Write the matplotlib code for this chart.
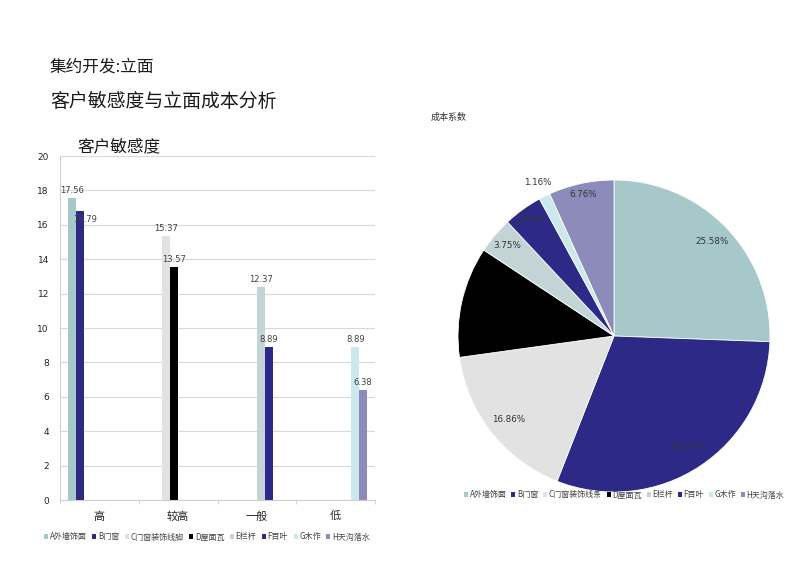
import matplotlib
matplotlib.use("Agg")
import matplotlib.pyplot as plt
import numpy as np
from matplotlib.patches import Patch

plt.rcParams['font.family'] = ['Noto Sans CJK SC', 'DejaVu Sans']

# ---- data ----
categories = ['高', '较高', '一般', '低']
series_bar = ['A外墙饰面', 'B门窗', 'C门窗装饰线脚', 'D屋面瓦', 'E栏杆', 'F百叶', 'G木作', 'H天沟落水']
series_pie = ['A外墙饰面', 'B门窗', 'C门窗装饰线条', 'D屋面瓦', 'E栏杆', 'F百叶', 'G木作', 'H天沟落水']
# sensitivity value of each series, and the category it belongs to
sens_values = [17.56, 16.79, 15.37, 13.57, 12.37, 8.89, 8.89, 6.38]
sens_category = [0, 0, 1, 1, 2, 2, 3, 3]
# cost share (%)
cost_share = [25.58, 30.37, 16.86, 11.48, 3.75, 4.04, 1.16, 6.76]
cost_labels = ['25.58%', '30.37%', '16.86%', '', '3.75%', '4.04%', '1.16%', '6.76%']
yticks = [0, 2, 4, 6, 8, 10, 12, 14, 16, 18, 20]

colors = ['#a6c8ca', '#2c2a86', '#e2e2e2', '#000000', '#c3d4d7', '#2c2a86', '#cbe8ed', '#8c8bba']

fig = plt.figure(figsize=(8, 5.66), dpi=100)
fig.patch.set_facecolor('white')

# ---- titles ----
fig.text(50/800, 1-67/566, '集约开发:立面', fontsize=12, va='center', ha='left', color='#1a1a1a')
fig.text(50/800, 1-102/566, '客户敏感度与立面成本分析', fontsize=13.6, va='center', ha='left', color='#1a1a1a')
fig.text(77/800, 1-147/566, '客户敏感度', fontsize=12, va='center', ha='left', color='#1a1a1a')
fig.text(431/800, 1-117/566, '成本系数', fontsize=6.5, va='center', ha='left', color='#333333')

# ---- bar chart ----
ax = fig.add_axes([60/800, 1-500/566, 315/800, 344/566])
n = len(series_bar)
w = 0.1
label_off = [2, -9, 2, 2, 2, 2, 2, 2]
for i in range(n):
    x = sens_category[i] + (i - (n-1)/2) * w
    ax.bar(x, sens_values[i], width=w, color=colors[i], edgecolor='none', zorder=3)
    ax.annotate(f'{sens_values[i]:.2f}', (x + (0.07 if i == 1 else 0), sens_values[i]),
                xytext=(0, label_off[i]), textcoords='offset points',
                ha='center', va='bottom', fontsize=6, color='#404040', family='DejaVu Sans')
ax.set_xlim(-0.5, len(categories) - 0.5)
ax.set_ylim(0, 20)
ax.set_yticks(yticks)
ax.set_yticklabels([str(v) for v in yticks], fontsize=6.5, family='DejaVu Sans', color='#222222')
ax.set_xticks(range(len(categories)))
ax.set_xticklabels(categories, fontsize=8, color='#222222')
ax.set_xticks(np.arange(-0.5, len(categories)), minor=True)
ax.tick_params(axis='x', which='major', length=0, pad=8)
ax.tick_params(axis='x', which='minor', length=3, color='#cccccc')
ax.tick_params(axis='y', length=0, pad=8)
ax.grid(axis='y', color='#d8d8d8', linewidth=0.8, zorder=0)
for s in ['top', 'right']:
    ax.spines[s].set_visible(False)
ax.spines['left'].set_color('#d0d0d0')
ax.spines['bottom'].set_color('#d0d0d0')

handles_bar = [Patch(facecolor=colors[i], edgecolor='none', label=series_bar[i]) for i in range(n)]
fig.legend(handles=handles_bar, loc='center', bbox_to_anchor=(207/800, 1-537/566), ncol=8,
           frameon=False, fontsize=5.8, handlelength=0.5, handleheight=0.5,
           handletextpad=0.2, columnspacing=0.7, labelcolor='#444444')

# ---- pie chart ----
pax = fig.add_axes([458/800, 1-492/566, 312/800, 312/566])
wedges, _ = pax.pie(cost_share, colors=colors, startangle=90, counterclock=False,
                    wedgeprops=dict(edgecolor='white', linewidth=0.6))
pax.set_xlim(-1, 1)
pax.set_ylim(-1, 1)
pax.set_aspect('equal')
label_r = [0.87, 0.85, 0.86, 0.86, 0.9, 0.92, 1.1, 0.93]
for i, wdg in enumerate(wedges):
    if not cost_labels[i]:
        continue
    ang = np.deg2rad((wdg.theta1 + wdg.theta2) / 2)
    r = label_r[i]
    pax.text(r*np.cos(ang), r*np.sin(ang), cost_labels[i], ha='center', va='center',
             fontsize=6.3, color='#333333', family='DejaVu Sans')

handles_pie = [Patch(facecolor=colors[i], edgecolor='none', label=series_pie[i]) for i in range(n)]
fig.legend(handles=handles_pie, loc='center', bbox_to_anchor=(624/800, 1-495/566), ncol=8,
           frameon=False, fontsize=5.8, handlelength=0.5, handleheight=0.5,
           handletextpad=0.2, columnspacing=0.6, labelcolor='#444444')

fig.savefig('out.png', dpi=100, facecolor='white')
